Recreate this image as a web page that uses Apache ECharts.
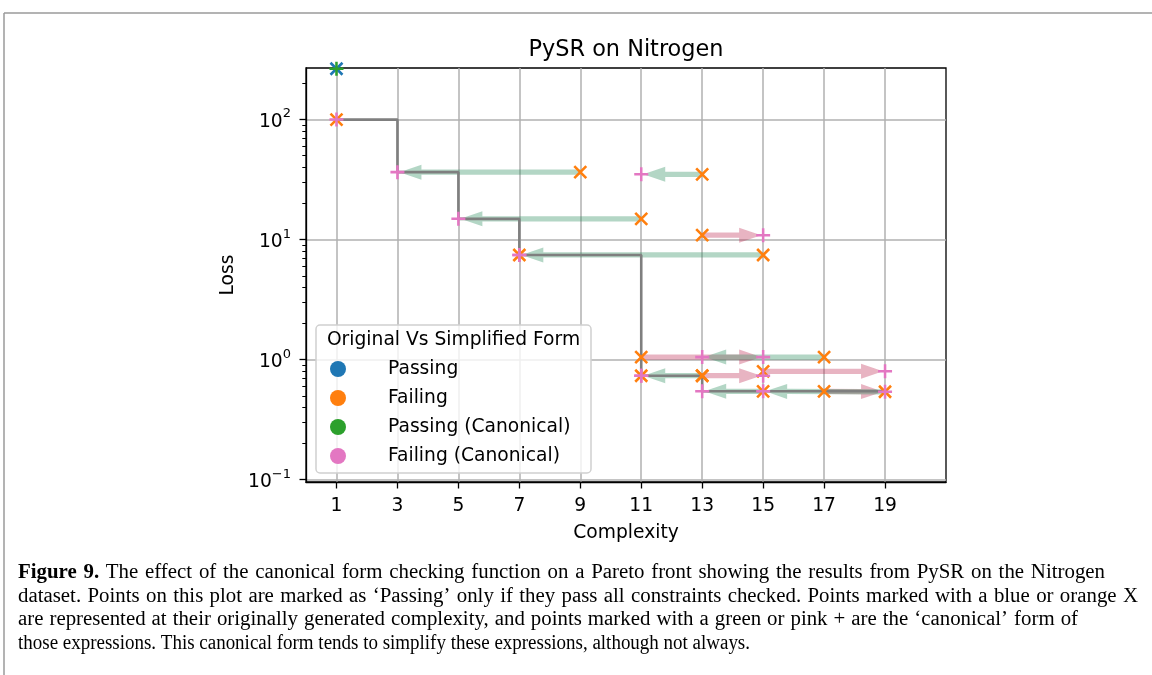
<!DOCTYPE html>
<html><head><meta charset="utf-8">
<script src="https://cdn.jsdelivr.net/npm/echarts@6/dist/echarts.min.js"></script>
<style>html,body{margin:0;padding:0;background:#fff;} #c{width:1152px;height:675px;}</style>
</head><body><div id="c"></div>
<script>
// ---------- data ----------
const xTickValues = [1, 3, 5, 7, 9, 11, 13, 15, 17, 19];
const yMajorTicks = [0.1, 1, 10, 100];
const yMajorExp = ['−1', '0', '1', '2'];
const yMinorTicks = [0.2, 0.3, 0.4, 0.5, 0.6, 0.7, 0.8, 0.9,
                     2, 3, 4, 5, 6, 7, 8, 9,
                     20, 30, 40, 50, 60, 70, 80, 90, 200];

// Passing expressions: original (blue X) and canonical (green +)
const passOrigC = [1];
const passOrigL = [265];
const passCanC = [1];
const passCanL = [265];

// Failing expressions: original (orange X) and canonical (pink +), paired by index
const failOrigC = [1, 9, 11, 7, 15, 13, 13, 11, 17, 11, 13, 13, 15, 15, 17, 19];
const failOrigL = [100, 36.5, 14.9, 7.45, 7.45, 35, 10.9, 1.05, 1.05, 0.735, 0.735, 0.735, 0.80, 0.545, 0.545, 0.54];
const failCanC  = [1, 3, 5, 7, 7, 11, 15, 15, 13, 11, 11, 15, 19, 13, 19, 15];
const failCanL  = [100, 36.5, 14.9, 7.45, 7.45, 35, 10.9, 1.05, 1.05, 0.735, 0.735, 0.735, 0.80, 0.545, 0.54, 0.545];

// Pareto front (step line)
const frontC = [1, 3, 5, 7, 11, 13, 19];
const frontL = [100, 36.5, 14.9, 7.45, 0.735, 0.545, 0.545];

const titleText = 'PySR on Nitrogen';
const xName = 'Complexity';
const yName = 'Loss';
const legendTitle = 'Original Vs Simplified Form';
const legendNames = ['Passing', 'Failing', 'Passing (Canonical)', 'Failing (Canonical)'];
const legendColors = ['#1f77b4', '#ff7f0e', '#2ca02c', '#e377c2'];

const captionBold = 'Figure 9.';
const captionLines = [
  'The effect of the canonical form checking function on a Pareto front showing the results from PySR on the Nitrogen',
  'dataset. Points on this plot are marked as ‘Passing’ only if they pass all constraints checked. Points marked with a blue or orange X',
  'are represented at their originally generated complexity, and points marked with a green or pink + are the ‘canonical’ form of',
  'those expressions. This canonical form tends to simplify these expressions, although not always.'
];

// ---------- helpers ----------
const FONT = 'DejaVu Sans';
const SERIF = 'Liberation Serif';
const zip = (a, b) => a.map((v, i) => [v, b[i]]);
const X_PATH = 'path://M0,0L10,10M10,0L0,10';
const PLUS_PATH = 'path://M4.1,0H5.9V4.1H10V5.9H5.9V10H4.1V5.9H0V4.1H4.1Z';

const arrowData = [];
failOrigC.forEach((c, i) => {
  if (c !== failCanC[i]) arrowData.push([c, failOrigL[i], failCanC[i], failCanL[i]]);
});
passOrigC.forEach((c, i) => {
  if (c !== passCanC[i]) arrowData.push([c, passOrigL[i], passCanC[i], passCanL[i]]);
});

function renderArrow(params, api) {
  const a = api.coord([api.value(0), api.value(1)]);
  const b = api.coord([api.value(2), api.value(3)]);
  const dx = b[0] - a[0], dy = b[1] - a[1];
  const len = Math.hypot(dx, dy);
  if (len < 1) return null;
  const ux = dx / len, uy = dy / len, nx = -uy, ny = ux;
  const tip = len - 2;
  const headLen = Math.min(22, tip * 0.6);
  const w = 2.6, hw = 7.5;
  const P = (t, s) => [a[0] + ux * t + nx * s, a[1] + uy * t + ny * s];
  const pts = [P(0, -w), P(tip - headLen, -w), P(tip - headLen, -hw), P(tip, 0),
               P(tip - headLen, hw), P(tip - headLen, w), P(0, w)];
  const color = dx < 0 ? 'rgba(45,140,95,0.36)' : 'rgba(190,40,80,0.35)';
  return { type: 'polygon', shape: { points: pts }, style: { fill: color } };
}

// ---------- caption (justified lines) ----------
const captionTargets = [1087, 1120, 1060, 732];
const capSize = 20;
const capLeft = 18, capTop = 573, capStep = 23.5;
const mctx = document.createElement('canvas').getContext('2d');
function measure(txt, bold) {
  mctx.font = (bold ? 'bold ' : '') + capSize + 'px "' + SERIF + '"';
  return mctx.measureText(txt).width;
}
const lineToks = captionLines.map((line, li) => {
  const toks = line.split(' ').map(t => ({ t: t, b: false }));
  if (li === 0) captionBold.split(' ').reverse().forEach(t => toks.unshift({ t: t, b: true }));
  return toks;
});
const naturalW = lineToks.map(toks => toks.reduce((s, k, i) => s + measure(k.t, k.b) + (i ? measure(' ', false) : 0), 0));
// glyph scale shared by the justified lines; last line fitted on its own
const sJust = 0.985 * Math.min(captionTargets[0] / naturalW[0], captionTargets[1] / naturalW[1], captionTargets[2] / naturalW[2]);
const captionGraphics = [];
lineToks.forEach((toks, li) => {
  const sc = li < 3 ? sJust : captionTargets[3] / naturalW[3];
  const widths = toks.map(k => measure(k.t, k.b) * sc);
  const sum = widths.reduce((s, v) => s + v, 0);
  const gap = li < 3 ? (captionTargets[li] - sum) / (toks.length - 1) : measure(' ', false) * sc;
  let x = capLeft;
  toks.forEach((k, i) => {
    captionGraphics.push({
      type: 'text', x: x, y: capTop + li * capStep, scaleX: sc, z: 50,
      style: { text: k.t, fontFamily: SERIF, fontSize: capSize, fontWeight: k.b ? 'bold' : 'normal',
               fill: '#000', align: 'left', verticalAlign: 'middle' }
    });
    x += widths[i] + gap;
  });
});

const chart = echarts.init(document.getElementById('c'), null, { renderer: 'canvas' });
const yMin = 0.0957, yMax = 269;

const option = {
  animation: false,
  backgroundColor: '#fff',
  title: {
    text: titleText, left: 626, top: 39, padding: 0, textAlign: 'center',
    textStyle: { fontFamily: FONT, fontSize: 22.4, fontWeight: 'normal', color: '#000' }
  },
  grid: {
    left: 306, right: 206, top: 68, bottom: 193, show: true,
    borderColor: '#000', borderWidth: 1.3, backgroundColor: 'transparent',
    outerBoundsMode: 'none', containLabel: false
  },
  legend: {
    orient: 'vertical', left: 330, top: 359, padding: 0, z: 20,
    itemWidth: 16, itemHeight: 16, itemGap: 9, selectedMode: false, icon: 'circle',
    textStyle: { fontFamily: FONT, fontSize: 18.7, color: '#000', lineHeight: 20, padding: [0, 0, 0, 37] },
    data: legendNames.map((n, i) => ({ name: n, icon: 'circle', itemStyle: { color: legendColors[i], borderWidth: 0, opacity: 1 } }))
  },
  xAxis: {
    type: 'value', min: 0, max: 21,
    name: xName, nameLocation: 'middle', nameGap: 42,
    nameTextStyle: { fontFamily: FONT, fontSize: 18.7, color: '#000' },
    axisLine: { show: true, onZero: false, lineStyle: { color: '#000', width: 1.3 } },
    axisTick: { show: true, customValues: xTickValues, length: 6.5, lineStyle: { color: '#000', width: 1.3 } },
    axisLabel: { customValues: xTickValues, margin: 15, fontFamily: FONT, fontSize: 18.7, color: '#000' },
    splitLine: { show: true, lineStyle: { color: '#b0b0b0', width: 1.5 } },
    minorTick: { show: false }
  },
  yAxis: [{
    type: 'log', logBase: 10, min: yMin, max: yMax,
    name: yName, nameLocation: 'middle', nameGap: 65, nameRotate: 90,
    nameTextStyle: { fontFamily: FONT, fontSize: 18.7, color: '#000' },
    axisLine: { show: true, onZero: false, lineStyle: { color: '#000', width: 1.3 } },
    axisTick: { show: true, customValues: yMajorTicks, length: 6.5, lineStyle: { color: '#000', width: 1.3 } },
    axisLabel: {
      customValues: yMajorTicks, margin: 15, color: '#000',
      formatter: (v) => {
        const k = yMajorTicks.findIndex(t => Math.abs(t - v) / t < 1e-6);
        return k >= 0 ? '{a|10}{s|' + yMajorExp[k] + '}' : '';
      },
      rich: {
        a: { fontFamily: FONT, fontSize: 18.7, color: '#000', lineHeight: 24, verticalAlign: 'bottom' },
        s: { fontFamily: FONT, fontSize: 13, color: '#000', lineHeight: 14, verticalAlign: 'top' }
      }
    },
    splitLine: { show: true, lineStyle: { color: '#b0b0b0', width: 1.5 } }
  }, {
    type: 'log', logBase: 10, min: yMin, max: yMax, position: 'left',
    axisLine: { show: false },
    axisTick: { show: true, customValues: yMinorTicks, length: 3.7, lineStyle: { color: '#000', width: 1 } },
    axisLabel: { show: false },
    splitLine: { show: false }
  }],
  graphic: [
    { type: 'line', shape: { x1: 4, y1: 13, x2: 1152, y2: 13 }, style: { stroke: '#9a9a9a', lineWidth: 1.5 }, z: 50 },
    { type: 'line', shape: { x1: 4, y1: 13, x2: 4, y2: 675 }, style: { stroke: '#9a9a9a', lineWidth: 1.5 }, z: 50 },
    { type: 'rect', shape: { x: 316, y: 325, width: 275, height: 148, r: 4 },
      style: { fill: 'rgba(255,255,255,0.8)', stroke: '#d0d0d0', lineWidth: 1.5 }, z: 10 },
    { type: 'text', x: 453.5, y: 340, z: 20,
      style: { text: legendTitle, fontFamily: FONT, fontSize: 18.7, fill: '#000', align: 'center', verticalAlign: 'middle' } }
  ].concat(captionGraphics),
  series: [
    {
      type: 'custom', name: 'arrows', data: arrowData, renderItem: renderArrow,
      encode: { x: [0, 2], y: [1, 3] }, clip: false, z: 1, silent: true
    },
    {
      type: 'line', name: 'front', data: zip(frontC, frontL), step: 'end',
      showSymbol: false, symbol: 'none', lineStyle: { color: '#7f7f7f', width: 2.6 }, z: 2, silent: true
    },
    {
      type: 'scatter', name: 'Passing', data: zip(passOrigC, passOrigL), symbol: X_PATH, symbolSize: 12,
      itemStyle: { color: '#1f77b4', borderColor: '#1f77b4', borderWidth: 2.6, opacity: 1 }, z: 3, clip: false, silent: true
    },
    {
      type: 'scatter', name: 'Failing', data: zip(failOrigC, failOrigL), symbol: X_PATH, symbolSize: 12,
      itemStyle: { color: '#ff7f0e', borderColor: '#ff7f0e', borderWidth: 2.6, opacity: 1 }, z: 3, clip: false, silent: true
    },
    {
      type: 'scatter', name: 'Passing (Canonical)', data: zip(passCanC, passCanL), symbol: PLUS_PATH, symbolSize: 14,
      itemStyle: { color: '#2ca02c', borderWidth: 0, opacity: 1 }, z: 4, clip: false, silent: true
    },
    {
      type: 'scatter', name: 'Failing (Canonical)', data: zip(failCanC, failCanL), symbol: PLUS_PATH, symbolSize: 14,
      itemStyle: { color: '#e377c2', borderWidth: 0, opacity: 1 }, z: 4, clip: false, silent: true
    }
  ]
};
chart.setOption(option);
</script>
</body></html>
